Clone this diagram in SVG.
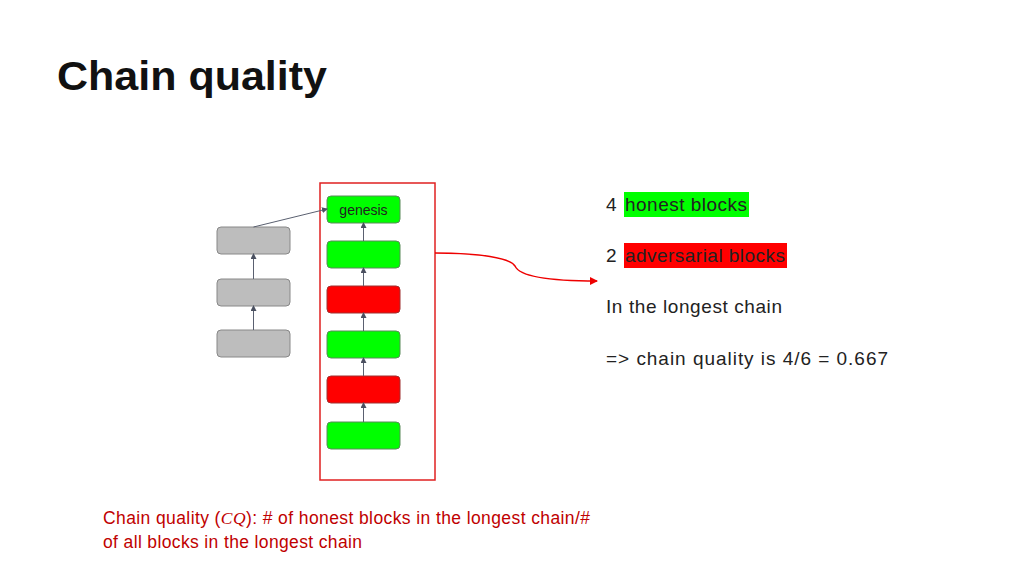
<svg xmlns="http://www.w3.org/2000/svg" width="1024" height="576" viewBox="0 0 1024 576">
<style>
.blk{stroke:#5a8a5a;stroke-width:1;rx:4}
.g{fill:#00ff00}.r{fill:#ff0000;stroke:#a03030}.gr{fill:#bdbdbd;stroke:#888}
.c{stroke:#5a6070;stroke-width:1;fill:none;marker-end:url(#a)}
.t{font-family:"Liberation Sans",Arial,sans-serif;font-size:19px;fill:#222}
</style>
<defs><marker id="a" markerWidth="6" markerHeight="6" refX="5" refY="3" orient="auto" markerUnits="userSpaceOnUse"><path d="M0,0L6,3L0,6z" fill="#4a5060"/></marker>
<marker id="ar" markerWidth="8" markerHeight="8" refX="7" refY="4" orient="auto" markerUnits="userSpaceOnUse"><path d="M0,0L8,4L0,8z" fill="#e00"/></marker></defs>
<rect width="1024" height="576" fill="#fff"/>
<text x="57" y="90" font-family="'Liberation Sans',Arial,sans-serif" font-size="40" font-weight="bold" fill="#111" textLength="270" lengthAdjust="spacingAndGlyphs">Chain quality</text>
<rect x="320" y="183" width="115" height="297" fill="none" stroke="#e02020" stroke-width="1.5"/>
<g id="genesis"><rect class="blk g" x="327" y="196" width="73" height="27"/><text x="363.5" y="215" text-anchor="middle" font-family="'Liberation Sans',Arial,sans-serif" font-size="14" fill="#222">genesis</text></g>
<g id="b1"><rect class="blk g" x="327" y="241" width="73" height="27"/></g>
<g id="b2"><rect class="blk r" x="327" y="286" width="73" height="27"/></g>
<g id="b3"><rect class="blk g" x="327" y="331" width="73" height="27"/></g>
<g id="b4"><rect class="blk r" x="327" y="376" width="73" height="27"/></g>
<g id="b5"><rect class="blk g" x="327" y="422" width="73" height="27"/></g>
<g id="f1"><rect class="blk gr" x="217" y="227" width="73" height="27"/></g>
<g id="f2"><rect class="blk gr" x="217" y="279" width="73" height="27"/></g>
<g id="f3"><rect class="blk gr" x="217" y="330" width="73" height="27"/></g>
<g id="connectors">
<path class="c" d="M363.5,241V223"/><path class="c" d="M363.5,286V268"/><path class="c" d="M363.5,331V313"/><path class="c" d="M363.5,376V358"/><path class="c" d="M363.5,422V403"/>
<path class="c" d="M253.5,279V254"/><path class="c" d="M253.5,330V306"/>
<path class="c" d="M253.5,227L327,209"/>
<path d="M435,253C480,253 510,258 515,266C520,278 560,281 597,281" fill="none" stroke="#e00" stroke-width="1.5" marker-end="url(#ar)"/>
</g>
<rect x="624" y="192" width="125" height="25" fill="#00ff00"/>
<rect x="624" y="243" width="163" height="25" fill="#ff0000"/>
<text class="t" x="606" y="211">4</text><text class="t" x="625" y="211" textLength="122">honest blocks</text>
<text class="t" x="606" y="262">2</text><text class="t" x="625" y="262" textLength="160">adversarial blocks</text>
<text class="t" x="606" y="313" textLength="176">In the longest chain</text>
<text class="t" x="606" y="365" textLength="282">=&gt; chain quality is 4/6 = 0.667</text>
<text font-family="'Liberation Sans',Arial,sans-serif" font-size="17.5" fill="#c00000"><tspan x="103" y="524" textLength="487">Chain quality (<tspan font-family="'Liberation Serif',serif" font-style="italic">CQ</tspan>): # of honest blocks in the longest chain/#</tspan><tspan x="103" y="548" textLength="259">of all blocks in the longest chain</tspan></text>
</svg>
